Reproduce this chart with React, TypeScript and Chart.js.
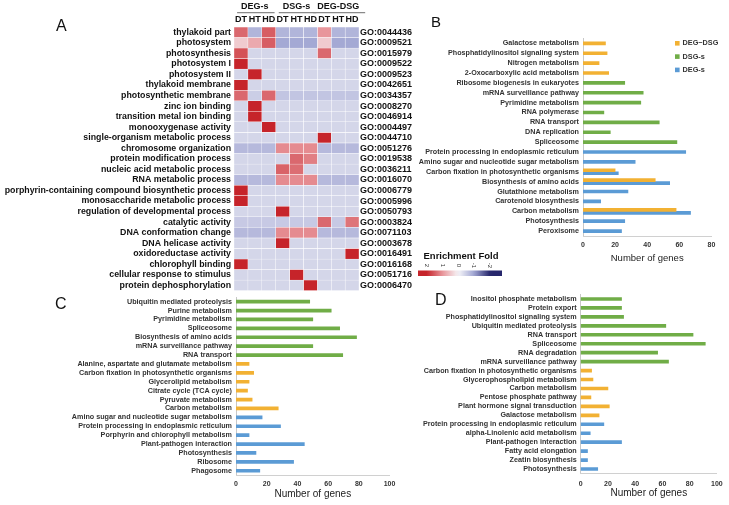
import React, { useEffect, useRef } from 'react';
import { Chart, registerables } from 'chart.js';

Chart.register(...registerables);

const FONT = '"Liberation Sans", Arial, Helvetica, sans-serif';
Chart.defaults.font.family = FONT;

// ---------------- Panel A: heatmap ----------------
const goTerms = [
  'thylakoid part', 'photosystem', 'photosynthesis', 'photosystem I', 'photosystem II',
  'thylakoid membrane', 'photosynthetic membrane', 'zinc ion binding', 'transition metal ion binding',
  'monooxygenase activity', 'single-organism metabolic process', 'chromosome organization',
  'protein modification process', 'nucleic acid metabolic process', 'RNA metabolic process',
  'porphyrin-containing compound biosynthetic process', 'monosaccharide metabolic process',
  'regulation of developmental process', 'catalytic activity', 'DNA conformation change',
  'DNA helicase activity', 'oxidoreductase activity', 'chlorophyll binding',
  'cellular response to stimulus', 'protein dephosphorylation',
];
const goIds = [
  'GO:0044436', 'GO:0009521', 'GO:0015979', 'GO:0009522', 'GO:0009523', 'GO:0042651',
  'GO:0034357', 'GO:0008270', 'GO:0046914', 'GO:0004497', 'GO:0044710', 'GO:0051276',
  'GO:0019538', 'GO:0036211', 'GO:0016070', 'GO:0006779', 'GO:0005996', 'GO:0050793',
  'GO:0003824', 'GO:0071103', 'GO:0003678', 'GO:0016491', 'GO:0016168', 'GO:0051716',
  'GO:0006470',
];
const heatColumns = ['DT', 'HT', 'HD', 'DT', 'HT', 'HD', 'DT', 'HT', 'HD'];
const heatGroups = ['DEG-s', 'DSG-s', 'DEG-DSG'];
const legendTicks = [2, 1, 0, -1, -2];

const b = -0.4; // background enrichment level
const degDT = [1.4, 0.45, 1.6, 2, b, 2, 1.4, b, b, b, b, -0.75, b, b, -0.75, 2, 2, b, -0.55, -0.75, b, b, 2, b, b];
const degHT = [-0.8, 0.8, b, b, 2, b, -0.5, 2, 2, b, b, -0.75, b, b, -0.75, b, b, b, -0.55, -0.75, b, b, b, b, b];
const degHD = [1.5, 1.5, b, b, b, b, 1.4, b, b, 2, b, -0.75, b, b, -0.75, b, b, b, -0.55, -0.75, b, b, b, b, b];
const dsgDT = [-0.8, -0.95, b, b, b, b, -0.6, b, b, b, b, 1.1, b, 1.45, 1.1, b, b, 2, -0.55, 1.1, 2, b, b, b, b];
const dsgHT = [-0.8, -0.95, b, b, b, b, -0.6, b, b, b, b, 1.1, 1.4, 1.35, 1.1, b, b, b, -0.55, 1.1, b, b, b, 2, b];
const dsgHD = [-0.8, -0.95, b, b, b, b, -0.6, b, b, b, b, 1.1, 1.2, b, 1.1, b, b, b, -0.55, 1.1, b, b, b, b, 2];
const ddDT = [1.0, 0.45, 1.4, b, b, b, -0.6, b, b, b, 2, -0.75, b, b, -0.75, b, b, b, 1.4, -0.75, b, b, b, b, b];
const ddHT = [-0.8, -0.95, b, b, b, b, -0.6, b, b, b, b, -0.75, b, b, -0.75, b, b, b, -0.55, -0.75, b, b, b, b, b];
const ddHD = [-0.8, -0.95, b, b, b, b, -0.6, b, b, b, b, -0.75, b, b, -0.75, b, b, b, 1.3, -0.75, b, 2, b, b, b];
const heatValues = [degDT, degHT, degHD, dsgDT, dsgHT, dsgHD, ddDT, ddHT, ddHD];

const colorStops: [number, number[]][] = [
  [-2, [38, 38, 108]],
  [-1, [160, 165, 210]],
  [0, [246, 246, 249]],
  [1, [232, 150, 155]],
  [2, [198, 36, 42]],
];
function valueColor(v: number): string {
  const c = Math.max(-2, Math.min(2, v));
  for (let i = 0; i < colorStops.length - 1; i++) {
    const [v0, c0] = colorStops[i];
    const [v1, c1] = colorStops[i + 1];
    if (c >= v0 && c <= v1) {
      const t = (c - v0) / (v1 - v0);
      const r = Math.round(c0[0] + (c1[0] - c0[0]) * t);
      const g = Math.round(c0[1] + (c1[1] - c0[1]) * t);
      const bb = Math.round(c0[2] + (c1[2] - c0[2]) * t);
      return `rgb(${r},${g},${bb})`;
    }
  }
  return 'rgb(246,246,249)';
}

// ---------------- Panel B ----------------
const bLabels = [
  'Galactose metabolism', 'Phosphatidylinositol signaling system', 'Nitrogen metabolism',
  '2-Oxocarboxylic acid metabolism', 'Ribosome biogenesis in eukaryotes', 'mRNA surveillance pathway',
  'Pyrimidine metabolism', 'RNA polymerase', 'RNA transport', 'DNA replication', 'Spliceosome',
  'Protein processing in endoplasmic reticulum', 'Amino sugar and nucleotide sugar metabolism',
  'Carbon fixation in photosynthetic organisms', 'Biosynthesis of amino acids', 'Glutathione metabolism',
  'Carotenoid biosynthesis', 'Carbon metabolism', 'Photosynthesis', 'Peroxisome',
];
const bDegDsg = [14, 15, 10, 16, null, null, null, null, null, null, null, null, null, 20, 45, null, null, 58, null, null];
const bDsg = [null, null, null, null, 26, 37.5, 36, 13, 47.5, 17, 58.5, null, null, null, null, null, null, null, null, null];
const bDeg = [null, null, null, null, null, null, null, null, null, null, null, 64, 32.5, 22, 54, 28, 11, 67, 26, 24];

// ---------------- Panel C ----------------
const cLabels = [
  'Ubiquitin mediated proteolysis', 'Purine metabolism', 'Pyrimidine metabolism', 'Spliceosome',
  'Biosynthesis of amino acids', 'mRNA surveillance pathway', 'RNA transport',
  'Alanine, aspartate and glutamate metabolism', 'Carbon fixation in photosynthetic organisms',
  'Glycerolipid metabolism', 'Citrate cycle (TCA cycle)', 'Pyruvate metabolism', 'Carbon metabolism',
  'Amino sugar and nucleotide sugar metabolism', 'Protein processing in endoplasmic reticulum',
  'Porphyrin and chlorophyll metabolism', 'Plant-pathogen interaction', 'Photosynthesis', 'Ribosome', 'Phagosome',
];
const cDsg = [48, 62, 50, 67.5, 78.5, 50, 69.5, null, null, null, null, null, null, null, null, null, null, null, null, null];
const cDegDsg = [null, null, null, null, null, null, null, 8.5, 11.5, 8.5, 7.5, 10.5, 27.5, null, null, null, null, null, null, null];
const cDeg = [null, null, null, null, null, null, null, null, null, null, null, null, null, 17, 29, 8.5, 44.5, 13, 37.5, 15.5];

// ---------------- Panel D ----------------
const dLabels = [
  'Inositol phosphate metabolism', 'Protein export', 'Phosphatidylinositol signaling system',
  'Ubiquitin mediated proteolysis', 'RNA transport', 'Spliceosome', 'RNA degradation',
  'mRNA surveillance pathway', 'Carbon fixation in photosynthetic organisms', 'Glycerophospholipid metabolism',
  'Carbon metabolism', 'Pentose phosphate pathway', 'Plant hormone signal transduction', 'Galactose metabolism',
  'Protein processing in endoplasmic reticulum', 'alpha-Linolenic acid metabolism', 'Plant-pathogen interaction',
  'Fatty acid elongation', 'Zeatin biosynthesis', 'Photosynthesis',
];
const dDsg = [30, 30, 31.5, 62.5, 82.5, 91.5, 56.5, 64.5, null, null, null, null, null, null, null, null, null, null, null, null];
const dDegDsg = [null, null, null, null, null, null, null, null, 8, 9, 20, 7.5, 21, 13.5, null, null, null, null, null, null];
const dDeg = [null, null, null, null, null, null, null, null, null, null, null, null, null, null, 17, 7, 30, 5, 5, 12.5];

const ORANGE = '#f2b133';
const GREEN = '#70ad47';
const BLUE = '#5b9bd5';

function heatmapConfig(): any {
  const underlinePlugin = {
    id: 'groupsAndLegend',
    afterDraw(chart: any) {
      const ctx = chart.ctx;
      const x3 = chart.scales.x3;
      ctx.save();
      ctx.font = `bold 9px ${FONT}`;
      ctx.strokeStyle = '#8a8a8a';
      ctx.lineWidth = 1.3;
      heatGroups.forEach((g, i) => {
        const cx = x3.getPixelForTick(i);
        const w = ctx.measureText(g).width;
        ctx.beginPath();
        ctx.moveTo(cx - w / 2 - 4, 12.7);
        ctx.lineTo(cx + w / 2 + 6, 12.7);
        ctx.stroke();
      });
      // colour key
      const zeroX = 458.3;
      const unit = 15.8;
      const left = 418;
      const right = 502;
      const grad = ctx.createLinearGradient(left, 0, right, 0);
      for (let k = 0; k <= 20; k++) {
        const x = left + ((right - left) * k) / 20;
        const v = (zeroX - x) / unit;
        grad.addColorStop(k / 20, valueColor(v));
      }
      ctx.fillStyle = grad;
      ctx.fillRect(left, 270.5, right - left, 5.5);
      ctx.fillStyle = '#111';
      ctx.font = `bold 9.5px ${FONT}`;
      ctx.textAlign = 'left';
      ctx.textBaseline = 'middle';
      ctx.fillText('Enrichment Fold', 423.5, 256.5);
      ctx.font = `6px ${FONT}`;
      ctx.fillStyle = '#333';
      legendTicks.forEach((t) => {
        const x = zeroX - t * unit;
        ctx.save();
        ctx.translate(x, 265.5);
        ctx.rotate(Math.PI / 2);
        ctx.textAlign = 'center';
        ctx.textBaseline = 'middle';
        ctx.fillText(String(t), 0, 0);
        ctx.restore();
      });
      ctx.restore();
    },
  };
  return {
    type: 'bar',
    data: {
      labels: goTerms,
      datasets: heatValues.map((col, ci) => ({
        label: heatColumns[ci],
        data: col.map(() => 1),
        backgroundColor: col.map(valueColor),
        borderColor: 'rgba(255,255,255,0.95)',
        borderWidth: 0.5,
        borderSkipped: false,
        barPercentage: 1,
        categoryPercentage: 1,
        xAxisID: 'x',
        yAxisID: 'y',
      })),
    },
    options: {
      indexAxis: 'y',
      responsive: false,
      animation: false,
      events: [],
      layout: { padding: { left: 0, right: 310, top: 0, bottom: 9.3 } },
      plugins: { legend: { display: false }, tooltip: { enabled: false } },
      scales: {
        x: { stacked: true, min: 0, max: 9, display: false },
        y: {
          stacked: true,
          position: 'left',
          grid: { display: false, drawTicks: false },
          border: { display: false },
          ticks: { autoSkip: false, padding: 3, color: '#111', font: { size: 8.8, weight: 'bold' } },
          afterFit: (s: any) => { s.width = 234; },
        },
        y2: {
          type: 'category',
          position: 'right',
          labels: goIds,
          offset: true,
          grid: { display: false, drawTicks: false },
          border: { display: false },
          ticks: { autoSkip: false, padding: 1, color: '#111', font: { size: 9, weight: 'bold' } },
          afterFit: (s: any) => { s.width = 60; },
        },
        x2: {
          type: 'category',
          position: 'top',
          labels: heatColumns,
          offset: true,
          weight: 0,
          grid: { display: false, drawTicks: false },
          border: { display: false },
          ticks: { autoSkip: false, minRotation: 0, maxRotation: 0, padding: 1.6, color: '#111', font: { size: 9, weight: 'bold' } },
          afterFit: (s: any) => { s.height = 12; },
        },
        x3: {
          type: 'category',
          position: 'top',
          labels: heatGroups,
          offset: true,
          weight: 1,
          grid: { display: false, drawTicks: false },
          border: { display: false },
          ticks: { autoSkip: false, minRotation: 0, maxRotation: 0, padding: 2.9, color: '#111', font: { size: 9, weight: 'bold' } },
          afterFit: (s: any) => { s.height = 15; },
        },
      },
    },
    plugins: [underlinePlugin],
  };
}

interface BarPanel {
  labels: string[];
  series: { label: string; data: (number | null)[]; color: string }[];
  max: number;
  yWidth: number;
  padRight: number;
  padTop: number;
  xHeight: number;
  tickPad: number;
  titleSize: number;
  titlePad: number;
  legend?: { x: number; y: number; step: number };
}

function barConfig(p: BarPanel): any {
  const plugins: any[] = [];
  if (p.legend) {
    const lg = p.legend;
    plugins.push({
      id: 'keyB',
      afterDraw(chart: any) {
        const ctx = chart.ctx;
        ctx.save();
        ctx.font = `bold 7.3px ${FONT}`;
        ctx.textBaseline = 'middle';
        ctx.textAlign = 'left';
        chart.data.datasets.forEach((ds: any, i: number) => {
          const y = lg.y + i * lg.step;
          ctx.fillStyle = ds.backgroundColor;
          ctx.fillRect(lg.x, y - 2.3, 4.6, 4.6);
          ctx.fillStyle = '#333';
          ctx.fillText(ds.label, lg.x + 7.5, y);
        });
        ctx.restore();
      },
    });
  }
  return {
    type: 'bar',
    data: {
      labels: p.labels,
      datasets: p.series.map((s) => ({
        label: s.label,
        data: s.data,
        backgroundColor: s.color,
        borderWidth: 0,
        barThickness: 3,
        skipNull: true,
      })),
    },
    options: {
      indexAxis: 'y',
      responsive: false,
      animation: false,
      events: [],
      layout: { padding: { left: 0, right: p.padRight, top: p.padTop, bottom: 0 } },
      plugins: { legend: { display: false }, tooltip: { enabled: false } },
      scales: {
        y: {
          grid: { display: false, drawTicks: false },
          border: { display: true, color: '#c8c8c8', width: 1 },
          ticks: { autoSkip: false, padding: 4, color: '#333', font: { size: 7.2, weight: 'bold' } },
          afterFit: (s: any) => { s.width = p.yWidth; },
        },
        x: {
          min: 0,
          max: p.max,
          grid: { display: false, drawTicks: false },
          border: { display: true, color: '#d0d0d0', width: 1 },
          ticks: { stepSize: 20, padding: p.tickPad, color: '#333', maxRotation: 0, font: { size: 7, weight: 'bold' } },
          title: {
            display: true,
            text: 'Number of genes',
            color: '#222',
            font: { size: p.titleSize },
            padding: { top: 0, bottom: p.titlePad },
          },
          afterFit: (s: any) => { s.height = p.xHeight; },
        },
      },
    },
    plugins,
  };
}

const letterStyle = (left: number, top: number, size: number): React.CSSProperties => ({
  position: 'absolute',
  left,
  top,
  fontFamily: FONT,
  fontSize: size,
  lineHeight: `${size}px`,
  color: '#111',
});

export default function App() {
  const aRef = useRef<HTMLCanvasElement>(null);
  const bRef = useRef<HTMLCanvasElement>(null);
  const cRef = useRef<HTMLCanvasElement>(null);
  const dRef = useRef<HTMLCanvasElement>(null);

  useEffect(() => {
    document.body.style.margin = '0';
    const charts: Chart[] = [];
    charts.push(new Chart(aRef.current as HTMLCanvasElement, heatmapConfig()));
    charts.push(
      new Chart(
        bRef.current as HTMLCanvasElement,
        barConfig({
          labels: bLabels,
          series: [
            { label: 'DEG\u2212DSG', data: bDegDsg, color: ORANGE },
            { label: 'DSG-s', data: bDsg, color: GREEN },
            { label: 'DEG-s', data: bDeg, color: BLUE },
          ],
          max: 80,
          yWidth: 213,
          padRight: 17.6,
          padTop: 38.4,
          xHeight: 34,
          tickPad: 4.8,
          titleSize: 9.5,
          titlePad: 6.3,
          legend: { x: 305, y: 43.3, step: 13.3 },
        })
      )
    );
    charts.push(
      new Chart(
        cRef.current as HTMLCanvasElement,
        barConfig({
          labels: cLabels,
          series: [
            { label: 'DEG-DSG', data: cDegDsg, color: ORANGE },
            { label: 'DSG-s', data: cDsg, color: GREEN },
            { label: 'DEG-s', data: cDeg, color: BLUE },
          ],
          max: 100,
          yWidth: 236,
          padRight: 6,
          padTop: 12.2,
          xHeight: 29.8,
          tickPad: 4.6,
          titleSize: 10,
          titlePad: 5,
        })
      )
    );
    charts.push(
      new Chart(
        dRef.current as HTMLCanvasElement,
        barConfig({
          labels: dLabels,
          series: [
            { label: 'DEG-DSG', data: dDegDsg, color: ORANGE },
            { label: 'DSG-s', data: dDsg, color: GREEN },
            { label: 'DEG-s', data: dDeg, color: BLUE },
          ],
          max: 100,
          yWidth: 210.7,
          padRight: 8.3,
          padTop: 9.5,
          xHeight: 31.5,
          tickPad: 6.3,
          titleSize: 10,
          titlePad: 6,
        })
      )
    );
    return () => {
      charts.forEach((c) => c.destroy());
    };
  }, []);

  return (
    <div style={{ position: 'relative', width: 729, height: 505, background: '#fff', overflow: 'hidden' }}>
      <canvas ref={aRef} width={729} height={300} style={{ position: 'absolute', left: 0, top: 0 }} />
      <canvas ref={bRef} width={359} height={270} style={{ position: 'absolute', left: 370, top: 0 }} />
      <canvas ref={cRef} width={400} height={220} style={{ position: 'absolute', left: 0, top: 285 }} />
      <canvas ref={dRef} width={359} height={220} style={{ position: 'absolute', left: 370, top: 285 }} />
      <div style={letterStyle(56, 18.2, 16)}>A</div>
      <div style={letterStyle(431, 14, 15)}>B</div>
      <div style={letterStyle(55, 295.8, 16)}>C</div>
      <div style={letterStyle(435, 291.5, 16)}>D</div>
    </div>
  );
}
